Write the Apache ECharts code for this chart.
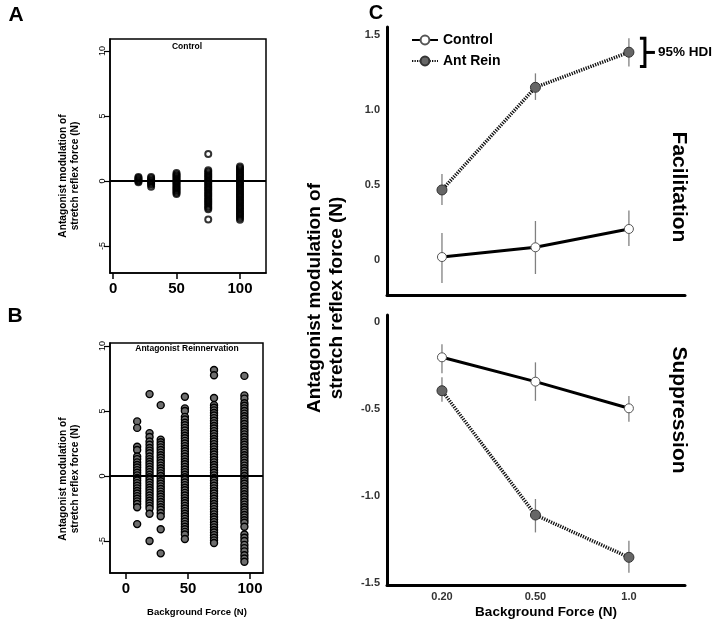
<!DOCTYPE html>
<html><head><meta charset="utf-8">
<script src="https://cdn.jsdelivr.net/npm/echarts@6/dist/echarts.min.js"></script>
<style>html,body{margin:0;padding:0;background:#fff}#c{width:718px;height:625px}</style>
</head><body><div id="c"></div>
<script>
// ---------- Panel A (Control) ----------
const aX = [20, 30, 50, 75, 100];
const aY20 = [0.3, 0.22, 0.14, 0.06, -0.02, -0.1];
const aY30 = [0.3, 0.2, 0.1, 0.0, -0.1, -0.2, -0.3, -0.44];
const aY50 = [0.62, 0.5, 0.4, 0.3, 0.2, 0.1, 0.0, -0.1, -0.2, -0.3, -0.4, -0.5, -0.6, -0.7, -0.8, -0.9, -1.0];
const aY75 = [2.08, 0.82, 0.7, 0.58, 0.46, 0.34, 0.22, 0.1, -0.02, -0.14, -0.26, -0.38, -0.5, -0.62, -0.74, -0.86, -0.98, -1.1, -1.22, -1.34, -1.46, -1.58, -1.7, -1.82, -1.94, -2.06, -2.18, -2.97];
const aY100 = [1.12, 1.0, 0.88, 0.76, 0.64, 0.52, 0.4, 0.28, 0.16, 0.04, -0.08, -0.2, -0.32, -0.44, -0.56, -0.68, -0.8, -0.92, -1.04, -1.16, -1.28, -1.4, -1.52, -1.64, -1.76, -1.88, -2.0, -2.12, -2.24, -2.36, -2.48, -2.6, -2.72, -2.84, -2.98];
const aCols = [aY20, aY30, aY50, aY75, aY100];

// ---------- Panel B (Antagonist Reinnervation) ----------
const bX = [9, 19, 28, 47.5, 71, 95.5];
const bY10 = [4.2, 3.7, 2.25, 2.0, 1.5, 1.3, 1.05, 0.85, 0.65, 0.45, 0.25, 0.05, -0.15, -0.35, -0.55, -0.75, -0.95, -1.15, -1.35, -1.55, -1.75, -1.95, -2.15, -2.4, -3.7];
const bY20 = [6.3, 3.3, 3.0, 2.65, 2.4, 2.15, 1.95, 1.75, 1.5, 1.3, 1.1, 0.9, 0.7, 0.5, 0.3, 0.1, -0.1, -0.3, -0.5, -0.7, -0.9, -1.1, -1.3, -1.5, -1.7, -1.9, -2.1, -2.3, -2.5, -2.9, -5.0];
const bY30 = [5.45, 2.8, 2.6, 2.4, 2.2, 2.0, 1.8, 1.6, 1.4, 1.2, 1.0, 0.8, 0.6, 0.4, 0.2, 0.0, -0.2, -0.4, -0.6, -0.8, -1.0, -1.2, -1.4, -1.6, -1.8, -2.0, -2.2, -2.4, -2.6, -2.85, -3.1, -4.1, -5.95];
const bY50 = [6.1, 5.2, 5.0, 4.55, 4.35, 4.1, 3.9, 3.7, 3.5, 3.3, 3.1, 2.9, 2.7, 2.5, 2.3, 2.1, 1.9, 1.7, 1.5, 1.3, 1.1, 0.9, 0.7, 0.5, 0.3, 0.1, -0.1, -0.3, -0.5, -0.7, -0.9, -1.1, -1.3, -1.5, -1.7, -1.9, -2.1, -2.3, -2.5, -2.7, -2.9, -3.1, -3.3, -3.5, -3.7, -3.9, -4.1, -4.3, -4.5, -4.85];
const bY75 = [8.15, 7.75, 6.0, 5.45, 5.25, 5.05, 4.85, 4.65, 4.45, 4.25, 4.05, 3.85, 3.65, 3.45, 3.25, 3.05, 2.85, 2.65, 2.45, 2.25, 2.05, 1.85, 1.65, 1.45, 1.25, 1.05, 0.85, 0.65, 0.45, 0.25, 0.05, -0.15, -0.35, -0.55, -0.75, -0.95, -1.15, -1.35, -1.55, -1.75, -1.95, -2.15, -2.35, -2.55, -2.75, -2.95, -3.15, -3.35, -3.55, -3.75, -3.95, -4.15, -4.35, -4.55, -4.75, -4.95, -5.15];
const bY100 = [7.7, 6.2, 5.95, 5.6, 5.4, 5.2, 5.0, 4.8, 4.6, 4.4, 4.2, 4.0, 3.8, 3.6, 3.4, 3.2, 3.0, 2.8, 2.6, 2.4, 2.2, 2.0, 1.8, 1.6, 1.4, 1.2, 1.0, 0.8, 0.6, 0.4, 0.2, 0.0, -0.2, -0.4, -0.6, -0.8, -1.0, -1.2, -1.4, -1.6, -1.8, -2.0, -2.2, -2.4, -2.6, -2.8, -3.0, -3.2, -3.4, -3.6, -3.9, -4.5, -4.75, -5.0, -5.3, -5.55, -5.8, -6.1, -6.35, -6.6];
const bCols = [bY10, bY20, bY30, bY50, bY75, bY100];

const abXTicks = [0, 50, 100];
const abYTicks = [-5, 0, 5, 10];

// ---------- Panel C ----------
const cX = ['0.20', '0.50', '1.0'];
const facTicks = [0, 0.5, 1.0, 1.5];
const supTicks = [0, -0.5, -1.0, -1.5];
const facControl = [0.02, 0.085, 0.207];
const facControlLo = [-0.153, -0.093, 0.093];
const facControlHi = [0.18, 0.26, 0.33];
const facAnt = [0.467, 1.151, 1.385];
const facAntLo = [0.367, 1.067, 1.289];
const facAntHi = [0.573, 1.244, 1.478];
const supControl = [-0.203, -0.343, -0.496];
const supControlLo = [-0.295, -0.453, -0.573];
const supControlHi = [-0.128, -0.232, -0.425];
const supAnt = [-0.395, -1.109, -1.352];
const supAntLo = [-0.458, -1.209, -1.441];
const supAntHi = [-0.318, -1.017, -1.257];

const FF = "'Liberation Sans', Arial, Helvetica, sans-serif";
const chart = echarts.init(document.getElementById('c'), null, {renderer: 'canvas'});

function colsData(xs, cols) {
  const out = [];
  xs.forEach((x, i) => cols[i].forEach(v => out.push([x, v])));
  return out;
}
function pts(vals) { return vals.map((v, i) => [i, v]); }
function errs(lo, hi) { return lo.map((l, i) => [i, l, hi[i]]); }

function abXAxis(grid, min, max) {
  return {
    type: 'value', gridIndex: grid, min: min, max: max,
    axisLine: {show: true, onZero: false, lineStyle: {color: '#000', width: 1.5}},
    axisTick: {show: true, inside: false, length: 6, customValues: abXTicks, lineStyle: {color: '#000', width: 1.5}},
    axisLabel: {show: true, customValues: abXTicks, margin: 8, color: '#000', fontFamily: FF, fontWeight: 'bold', fontSize: 15},
    splitLine: {show: false}
  };
}
function abYAxis(grid, min, max) {
  return {
    type: 'value', gridIndex: grid, min: min, max: max,
    axisLine: {show: true, onZero: false, lineStyle: {color: '#000', width: 1.5}},
    axisTick: {show: true, inside: false, length: 6, customValues: abYTicks, lineStyle: {color: '#000', width: 1.2}},
    axisLabel: {show: true, customValues: abYTicks, rotate: 90, margin: 3, color: '#000', fontFamily: FF, fontSize: 9},
    splitLine: {show: false}
  };
}
function cXAxis(grid, showLabels) {
  return {
    type: 'value', gridIndex: grid, min: -0.588, max: 2.6,
    axisLine: {show: true, onZero: false, lineStyle: {color: '#000', width: 3}},
    axisTick: {show: false},
    axisLabel: {show: showLabels, customValues: [0, 1, 2], formatter: v => cX[Math.round(v)], margin: 6,
      color: '#333', fontFamily: FF, fontWeight: 'bold', fontSize: 11},
    splitLine: {show: false}
  };
}
function cYAxis(grid, min, max, ticks) {
  return {
    type: 'value', gridIndex: grid, min: min, max: max,
    axisLine: {show: true, onZero: false, lineStyle: {color: '#000', width: 3}},
    axisTick: {show: false},
    axisLabel: {show: true, customValues: ticks, formatter: v => (v === 0 ? '0' : v.toFixed(1)), margin: 7,
      color: '#333', fontFamily: FF, fontWeight: 'bold', fontSize: 11},
    splitLine: {show: false}
  };
}

const zeroLine = {symbol: 'none', silent: true, label: {show: false}, lineStyle: {color: '#000', width: 2, type: 'solid'}, data: [{yAxis: 0}]};

function errSeries(name, xi, yi, lo, hi) {
  return {
    type: 'custom', name: name + ' HDI', xAxisIndex: xi, yAxisIndex: yi, z: 1, silent: true,
    data: errs(lo, hi), encode: {x: 0, y: [1, 2]},
    renderItem: (params, api) => {
      const p1 = api.coord([api.value(0), api.value(2)]);
      const p2 = api.coord([api.value(0), api.value(1)]);
      return {type: 'line', shape: {x1: p1[0], y1: p1[1], x2: p2[0], y2: p2[1]}, style: {stroke: '#808080', lineWidth: 1.3}};
    }
  };
}
const ctrlStyle = {
  type: 'line', name: 'Control', symbol: 'circle', symbolSize: 9, z: 3,
  lineStyle: {color: '#000', width: 3, type: 'solid'},
  itemStyle: {color: '#fff', borderColor: '#555', borderWidth: 1}
};
const antStyle = {
  type: 'line', name: 'Ant Rein', symbol: 'circle', symbolSize: 10, z: 3,
  lineStyle: {color: '#111', width: 3.5, type: [1.3, 1.2]},
  itemStyle: {color: '#666', borderColor: '#333', borderWidth: 1}
};

function txt(text, x, y, size, opts) {
  opts = opts || {};
  return {
    type: 'text', x: x, y: y, rotation: opts.rot || 0, z: 10, silent: true,
    style: {text: text, fontFamily: FF, fontWeight: opts.weight || 'bold', fontSize: size, fill: opts.color || '#000',
      align: 'center', verticalAlign: 'middle', textAlign: 'center', textVerticalAlign: 'middle', lineHeight: opts.lh || size * 1.2}
  };
}

const option = {
  backgroundColor: '#fff',
  animation: false,
  grid: [
    {left: 110, top: 39, width: 156, height: 234, show: true, borderColor: '#000', borderWidth: 1.5},
    {left: 110, top: 343, width: 153, height: 230, show: true, borderColor: '#000', borderWidth: 1.5},
    {left: 387, top: 27, width: 298, height: 268},
    {left: 387, top: 315, width: 298, height: 270}
  ],
  xAxis: [abXAxis(0, -2.4, 120.5), abXAxis(1, -12.9, 110.5), cXAxis(2, false), cXAxis(3, true)],
  yAxis: [abYAxis(0, -7.08, 10.92), abYAxis(1, -7.46, 10.23), cYAxis(2, -0.233, 1.553, facTicks), cYAxis(3, -1.511, 0.04, supTicks)],
  legend: {
    data: ['Control', 'Ant Rein'], orient: 'vertical', left: 406, top: 28, itemWidth: 26, itemHeight: 11, itemGap: 7,
    textStyle: {fontFamily: FF, fontWeight: 'bold', fontSize: 14, color: '#000'}, selectedMode: false
  },
  series: [
    {type: 'scatter', name: 'A', xAxisIndex: 0, yAxisIndex: 0, symbol: 'circle', symbolSize: 6, silent: true,
      itemStyle: {color: 'rgba(0,0,0,0)', borderColor: '#000', borderWidth: 2},
      data: colsData(aX, aCols), markLine: zeroLine},
    {type: 'scatter', name: 'B', xAxisIndex: 1, yAxisIndex: 1, symbol: 'circle', symbolSize: 7, silent: true,
      itemStyle: {color: '#6e6e6e', borderColor: '#000', borderWidth: 1.4, opacity: 1},
      data: colsData(bX, bCols), markLine: zeroLine},
    errSeries('Control fac', 2, 2, facControlLo, facControlHi),
    errSeries('Ant fac', 2, 2, facAntLo, facAntHi),
    errSeries('Control sup', 3, 3, supControlLo, supControlHi),
    errSeries('Ant sup', 3, 3, supAntLo, supAntHi),
    Object.assign({}, ctrlStyle, {xAxisIndex: 2, yAxisIndex: 2, data: pts(facControl)}),
    Object.assign({}, antStyle, {xAxisIndex: 2, yAxisIndex: 2, data: pts(facAnt)}),
    Object.assign({}, ctrlStyle, {xAxisIndex: 3, yAxisIndex: 3, data: pts(supControl)}),
    Object.assign({}, antStyle, {xAxisIndex: 3, yAxisIndex: 3, data: pts(supAnt)}),
    {
      type: 'custom', name: 'HDI bracket', xAxisIndex: 2, yAxisIndex: 2, z: 4, silent: true,
      data: [[2, facAntLo[2], facAntHi[2]]], encode: {x: 0, y: [1, 2]},
      renderItem: (params, api) => {
        const top = api.coord([api.value(0), api.value(2)]);
        const bot = api.coord([api.value(0), api.value(1)]);
        const x0 = top[0] + 11, x1 = top[0] + 16, mid = (top[1] + bot[1]) / 2;
        return {type: 'group', children: [
          {type: 'polyline', shape: {points: [[x0, top[1]], [x1, top[1]], [x1, bot[1]], [x0, bot[1]]]}, style: {stroke: '#000', lineWidth: 3, fill: null}},
          {type: 'line', shape: {x1: x1, y1: mid, x2: x1 + 10, y2: mid}, style: {stroke: '#000', lineWidth: 3}},
          {type: 'text', x: x1 + 13, y: mid, style: {text: '95% HDI', fontFamily: FF, fontWeight: 'bold', fontSize: 13.5, fill: '#000', align: 'left', verticalAlign: 'middle', textAlign: 'left', textVerticalAlign: 'middle'}}
        ]};
      }
    }
  ],
  graphic: [
    txt('A', 16, 15, 21),
    txt('B', 15, 316, 21),
    txt('C', 376, 13, 20),
    txt('Control', 187, 47, 8.5),
    txt('Antagonist Reinnervation', 187, 349, 8.5),
    txt('Antagonist modulation of\nstretch reflex force (N)', 69, 176, 10.2, {rot: Math.PI / 2, lh: 12}),
    txt('Antagonist modulation of\nstretch reflex force (N)', 69, 479, 10.2, {rot: Math.PI / 2, lh: 12}),
    txt('Background Force (N)', 197, 612, 9.5),
    txt('Antagonist modulation of\nstretch reflex force (N)', 326, 298, 19, {rot: Math.PI / 2, lh: 22}),
    txt('Background Force (N)', 546, 612, 13.5),
    txt('Facilitation', 679, 187, 21, {rot: -Math.PI / 2}),
    txt('Suppression', 679, 410, 21, {rot: -Math.PI / 2})
  ]
};
chart.setOption(option);
</script>
</body></html>
